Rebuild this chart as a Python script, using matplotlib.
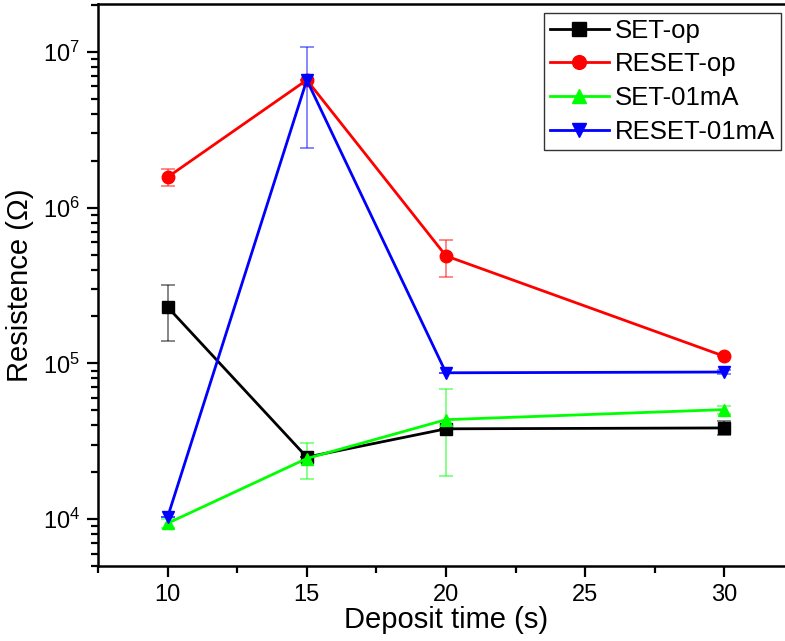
import matplotlib
matplotlib.use('Agg')
import matplotlib.pyplot as plt
import numpy as np
from matplotlib.ticker import LogLocator, MultipleLocator, NullFormatter

plt.rcParams['font.family'] = ['Liberation Sans', 'DejaVu Sans']

# deposit time (s)
x = [10, 15, 20, 30]

set_op = [2.30e5, 2.50e4, 3.80e4, 3.85e4]
set_op_err = [0.9e5, 0.0, 0.0, 4.0e3]

reset_op = [1.57e6, 6.6e6, 4.9e5, 1.11e5]
reset_op_err = [2.0e5, 0.0, 1.3e5, 0.0]

set_01 = [9.4e3, 2.45e4, 4.35e4, 5.05e4]
set_01_err = [6.0e2, 6.5e3, 2.45e4, 3.0e3]

reset_01 = [1.03e4, 6.6e6, 8.7e4, 8.8e4]
reset_01_err = [0.0, 4.2e6, 0.0, 3.0e3]

series = [
    ('SET-op', set_op, set_op_err, 'black', 's'),
    ('RESET-op', reset_op, reset_op_err, '#ff0000', 'o'),
    ('SET-01mA', set_01, set_01_err, '#00ff00', '^'),
    ('RESET-01mA', reset_01, reset_01_err, '#0000ff', 'v'),
]

fig = plt.figure(figsize=(7.85, 6.41), dpi=100)
# right spine sits just outside the frame, as in the original
ax = fig.add_axes([98/785, (641-566)/641, 696/785, 562/641])

for name, y, err, col, mk in series:
    ax.errorbar(x, y, yerr=err, color=col, ecolor=col, elinewidth=1.2,
                capsize=5, capthick=1.2, fmt='none', alpha=0.55, zorder=2)
    ax.plot(x, y, color=col, marker=mk, markersize=9, linewidth=2,
            label=name, zorder=3)

ax.set_yscale('log')
ax.set_xlim(7.5, 32.5)
ax.set_ylim(5e3, 2.03e7)

ax.xaxis.set_major_locator(MultipleLocator(5))
ax.xaxis.set_minor_locator(MultipleLocator(2.5))
ax.yaxis.set_major_locator(LogLocator(base=10, numticks=10))
ax.yaxis.set_minor_locator(LogLocator(base=10, subs=np.arange(2, 10), numticks=20))
ax.yaxis.set_minor_formatter(NullFormatter())

ax.tick_params(which='major', direction='out', length=8, width=1.6,
               labelsize=17, top=False, right=False, pad=5)
ax.tick_params(which='minor', direction='out', length=5, width=1.6,
               top=False, right=False)
for s in ax.spines.values():
    s.set_linewidth(1.8)

ax.set_xlabel('Deposit time (s)', fontsize=21, labelpad=0)
ax.set_ylabel('Resistence (Ω)', fontsize=21, labelpad=6)

leg = ax.legend(loc='upper left', bbox_to_anchor=((544 - 98)/696, 1 - 9/562),
                bbox_transform=ax.transAxes, fontsize=18.5, frameon=True,
                fancybox=False, edgecolor='black', handlelength=2.3,
                handletextpad=0.25, borderpad=0.22, labelspacing=0.38,
                borderaxespad=0, markerscale=1.1)
leg.get_frame().set_linewidth(1.0)
leg.set_zorder(5)

fig.savefig('out.png', dpi=100)
